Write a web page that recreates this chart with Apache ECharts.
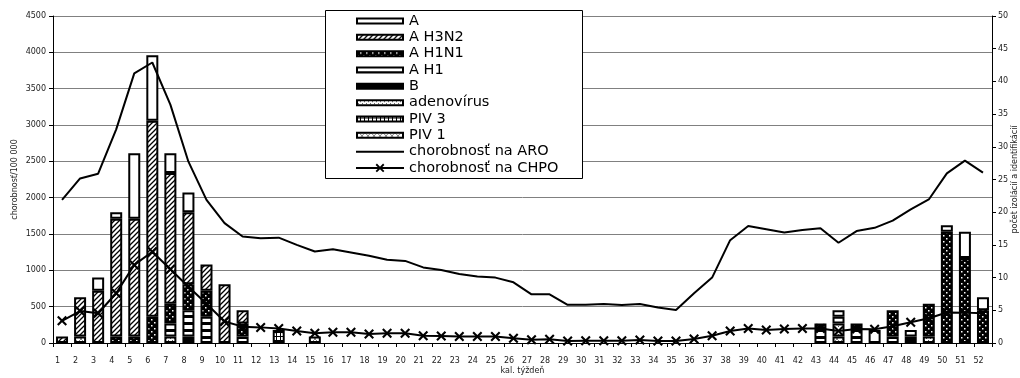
<!DOCTYPE html>
<html>
<head>
<meta charset="utf-8">
<script src="https://cdn.jsdelivr.net/npm/echarts@6/dist/echarts.min.js"></script>
<style>html,body{margin:0;padding:0;background:#fff}#c{width:1020px;height:378px}</style>
</head>
<body>
<div id="c"></div>
<script>
const weeks = Array.from({length: 52}, (_, i) => String(i + 1));
const leftTicks = [0, 500, 1000, 1500, 2000, 2500, 3000, 3500, 4000, 4500];
const rightTicks = [0, 5, 10, 15, 20, 25, 30, 35, 40, 45, 50];

// counts of isolations (right axis), index = week-1
const sA      = [0,0,2,1,10,10,3,3,0,0,0,0,0,0,0,0,0,0,0,0,0,0,0,0,0,0,0,0,0,0,0,0,0,0,0,0,0,0,0,0,0,0,0,1,0,2,0,0,0,1,4,2];
const sH3N2   = [1,6,8,18,18,30,20,11,4,9,2,0,0,0,0,0,0,0,0,0,0,0,0,0,0,0,0,0,0,0,0,0,0,0,0,0,0,0,0,0,0,0,0,0,0,0,0,0,0,0,0,0];
const sH1N1   = [0,0,0,1,1,4,3,4,4,0,2,0,0,0,0,0,0,0,0,0,0,0,0,0,0,0,0,0,0,0,0,0,0,0,0,0,0,0,0,0,0,0,1,0,1,0,4,0,5,17,13,5];
const sH1     = [0,0,0,0,0,0,2,4,4,0,1,0,0,0,0,0,0,0,0,0,0,0,0,0,0,0,0,0,0,0,0,0,0,0,0,0,0,0,0,0,0,0,2,1,2,0,1,1,0,0,0,0];
const sB      = [0,0,0,0,0,0,0,1,0,0,0,0,0,0,0,0,0,0,0,0,0,0,0,0,0,0,0,0,0,0,0,0,0,0,0,0,0,0,0,0,0,0,0,0,0,0,0,1,0,0,0,0];
const sAdeno  = [0,0,0,0,0,0,1,0,0,0,0,0,0,0,0,0,0,0,0,0,0,0,0,0,0,0,0,0,0,0,0,0,0,0,0,0,0,0,0,0,0,0,0,2,0,0,0,0,1,0,0,0];
const sPIV3   = [0,0,0,0,0,0,0,0,0,0,0,0,2,0,0,0,0,0,0,0,0,0,0,0,0,0,0,0,0,0,0,0,0,0,0,0,0,0,0,0,0,0,0,0,0,0,0,0,0,0,0,0];
const sPIV1   = [0,1,0,0,0,0,0,0,0,0,0,0,0,0,1,0,0,0,0,0,0,0,0,0,0,0,0,0,0,0,0,0,0,0,0,0,0,0,0,0,0,0,0,1,0,0,0,0,0,0,0,0];

// morbidity per 100 000 (left axis)
const aro  = [1970,2265,2330,2940,3710,3860,3280,2495,1970,1650,1465,1440,1450,1350,1260,1290,1245,1200,1145,1130,1040,1005,950,915,900,835,670,670,525,525,537,523,537,490,455,685,900,1415,1610,1565,1520,1555,1580,1380,1540,1585,1685,1840,1975,2335,2510,2345];
const chpo = [305,440,410,685,1075,1255,1015,775,540,295,225,215,200,165,135,148,148,125,133,133,100,96,88,88,88,64,45,50,28,32,32,32,40,28,28,55,100,165,200,180,192,200,200,165,193,188,230,285,340,420,418,408];

function pat(w, h, bg, draw) {
  const c = document.createElement('canvas');
  c.width = w; c.height = h;
  const g = c.getContext('2d');
  g.fillStyle = bg; g.fillRect(0, 0, w, h);
  draw(g, w, h);
  return {image: c, repeat: 'repeat'};
}
const fills = {
  'A': '#ffffff',
  'A H3N2': pat(5, 5, '#fff', (g) => {
    g.strokeStyle = '#000'; g.lineWidth = 1.3;
    g.beginPath();
    g.moveTo(-1, 6); g.lineTo(6, -1);
    g.moveTo(-1, 1); g.lineTo(1, -1);
    g.moveTo(4, 6); g.lineTo(6, 4);
    g.stroke();
  }),
  'A H1N1': pat(6, 6, '#000', (g) => {
    g.fillStyle = '#fff';
    g.fillRect(1, 1, 1.5, 1.5); g.fillRect(4, 4, 1.5, 1.5);
  }),
  'A H1': pat(4, 7, '#fff', (g) => { g.fillStyle = '#000'; g.fillRect(0, 0, 4, 3); }),
  'B': '#000000',
  'adenovírus': pat(4, 4, '#fff', (g) => {
    g.fillStyle = '#555'; g.fillRect(0, 0, 1, 1); g.fillRect(2, 2, 1, 1);
  }),
  'PIV 3': pat(4, 4, '#fff', (g) => {
    g.fillStyle = '#000'; g.fillRect(0, 0, 1, 4); g.fillRect(0, 0, 4, 1);
  }),
  'PIV 1': pat(6, 6, '#fff', (g) => {
    g.strokeStyle = '#888'; g.lineWidth = 1;
    g.beginPath();
    g.moveTo(0, 0); g.lineTo(6, 6); g.moveTo(6, 0); g.lineTo(0, 6);
    g.stroke();
  })
};

const barDefs = [
  ['PIV 1', sPIV1], ['PIV 3', sPIV3], ['adenovírus', sAdeno], ['B', sB],
  ['A H1', sH1], ['A H1N1', sH1N1], ['A H3N2', sH3N2], ['A', sA]
];
const FONT = 'DejaVu Sans';
const xMark = 'path://M0,1.5L1.5,0L5,3.5L8.5,0L10,1.5L6.5,5L10,8.5L8.5,10L5,6.5L1.5,10L0,8.5L3.5,5Z';

const series = barDefs.map(([name, vals]) => ({
  name, type: 'bar', stack: 'iso', yAxisIndex: 1, barWidth: 12,
  data: vals.map(v => v === 0 ? '-' : v),
  itemStyle: {color: fills[name], borderColor: '#000', borderWidth: 2},
  emphasis: {disabled: true}
}));
series.push({
  name: 'chorobnosť na ARO', type: 'line', yAxisIndex: 0, data: aro,
  smooth: false, symbol: 'none', lineStyle: {color: '#000', width: 2},
  itemStyle: {color: '#000'}, z: 5
});
series.push({
  name: 'chorobnosť na CHPO', type: 'line', yAxisIndex: 0, data: chpo,
  smooth: false, symbol: xMark, symbolSize: 10, showSymbol: true,
  lineStyle: {color: '#000', width: 2},
  itemStyle: {color: '#000', borderWidth: 0}, z: 6
});

const legendOrder = ['A', 'A H3N2', 'A H1N1', 'A H1', 'B', 'adenovírus', 'PIV 3', 'PIV 1'];
const barIcon = 'path://M0,0M48,11M1,3L47,3L47,8L1,8Z';
const legendData = legendOrder.map(n => ({name: n, icon: barIcon}))
  .concat([{name: 'chorobnosť na ARO', itemStyle: {opacity: 0}}, {name: 'chorobnosť na CHPO'}]);

const chart = echarts.init(document.getElementById('c'), null, {renderer: 'canvas'});
chart.setOption({
  animation: false,
  backgroundColor: '#fff',
  textStyle: {fontFamily: FONT},
  grid: {left: 53, right: 28, top: 16, bottom: 35, containLabel: false, outerBoundsMode: 'none'},
  graphic: [{
    type: 'rect', left: 325, top: 10, z: 3,
    shape: {width: 257, height: 168},
    style: {fill: '#fff', stroke: '#000', lineWidth: 1}
  }],
  legend: {
    orient: 'vertical', left: 355, top: 13.5, padding: 0,
    itemWidth: 48, itemHeight: 11, itemGap: 1.33,
    textStyle: {fontFamily: FONT, fontSize: 14.5, color: '#000', lineHeight: 14},
    data: legendData, selectedMode: false, z: 10
  },
  xAxis: {
    type: 'category', data: weeks, boundaryGap: true,
    name: 'kal. týždeň', nameLocation: 'middle', nameGap: 24, nameMoveOverlap: false,
    nameTextStyle: {fontFamily: FONT, fontSize: 8, color: '#222'},
    axisLine: {lineStyle: {color: '#000', width: 1}},
    axisTick: {show: true, length: 4, lineStyle: {color: '#000'}},
    axisLabel: {interval: 0, margin: 14, fontFamily: FONT, fontSize: 8, color: '#222', padding: [0, 9, 0, 0]},
    splitLine: {show: false}
  },
  yAxis: [{
    type: 'value', min: leftTicks[0], max: leftTicks[leftTicks.length - 1], interval: 500,
    position: 'left',
    name: 'chorobnosť/100 000', nameLocation: 'middle', nameGap: 34, nameRotate: 90, nameMoveOverlap: false,
    nameTextStyle: {fontFamily: FONT, fontSize: 8, color: '#222'},
    axisLine: {show: true, lineStyle: {color: '#000', width: 1}},
    axisTick: {show: true, length: 4, lineStyle: {color: '#000'}},
    axisLabel: {margin: 7, fontFamily: FONT, fontSize: 8, color: '#222', formatter: (v) => String(v)},
    splitLine: {show: true, lineStyle: {color: '#808080', width: 1}}
  }, {
    type: 'value', min: rightTicks[0], max: rightTicks[rightTicks.length - 1], interval: 5,
    position: 'right',
    name: 'počet izolácií a identifikácií', nameLocation: 'middle', nameGap: 19, nameRotate: 90, nameMoveOverlap: false,
    nameTextStyle: {fontFamily: FONT, fontSize: 8, color: '#222'},
    axisLine: {show: true, lineStyle: {color: '#000', width: 1}},
    axisTick: {show: true, length: 4, lineStyle: {color: '#000'}},
    axisLabel: {margin: 6, fontFamily: FONT, fontSize: 8, color: '#222', formatter: (v) => String(v)},
    splitLine: {show: false}
  }],
  series
});
</script>
</body>
</html>
